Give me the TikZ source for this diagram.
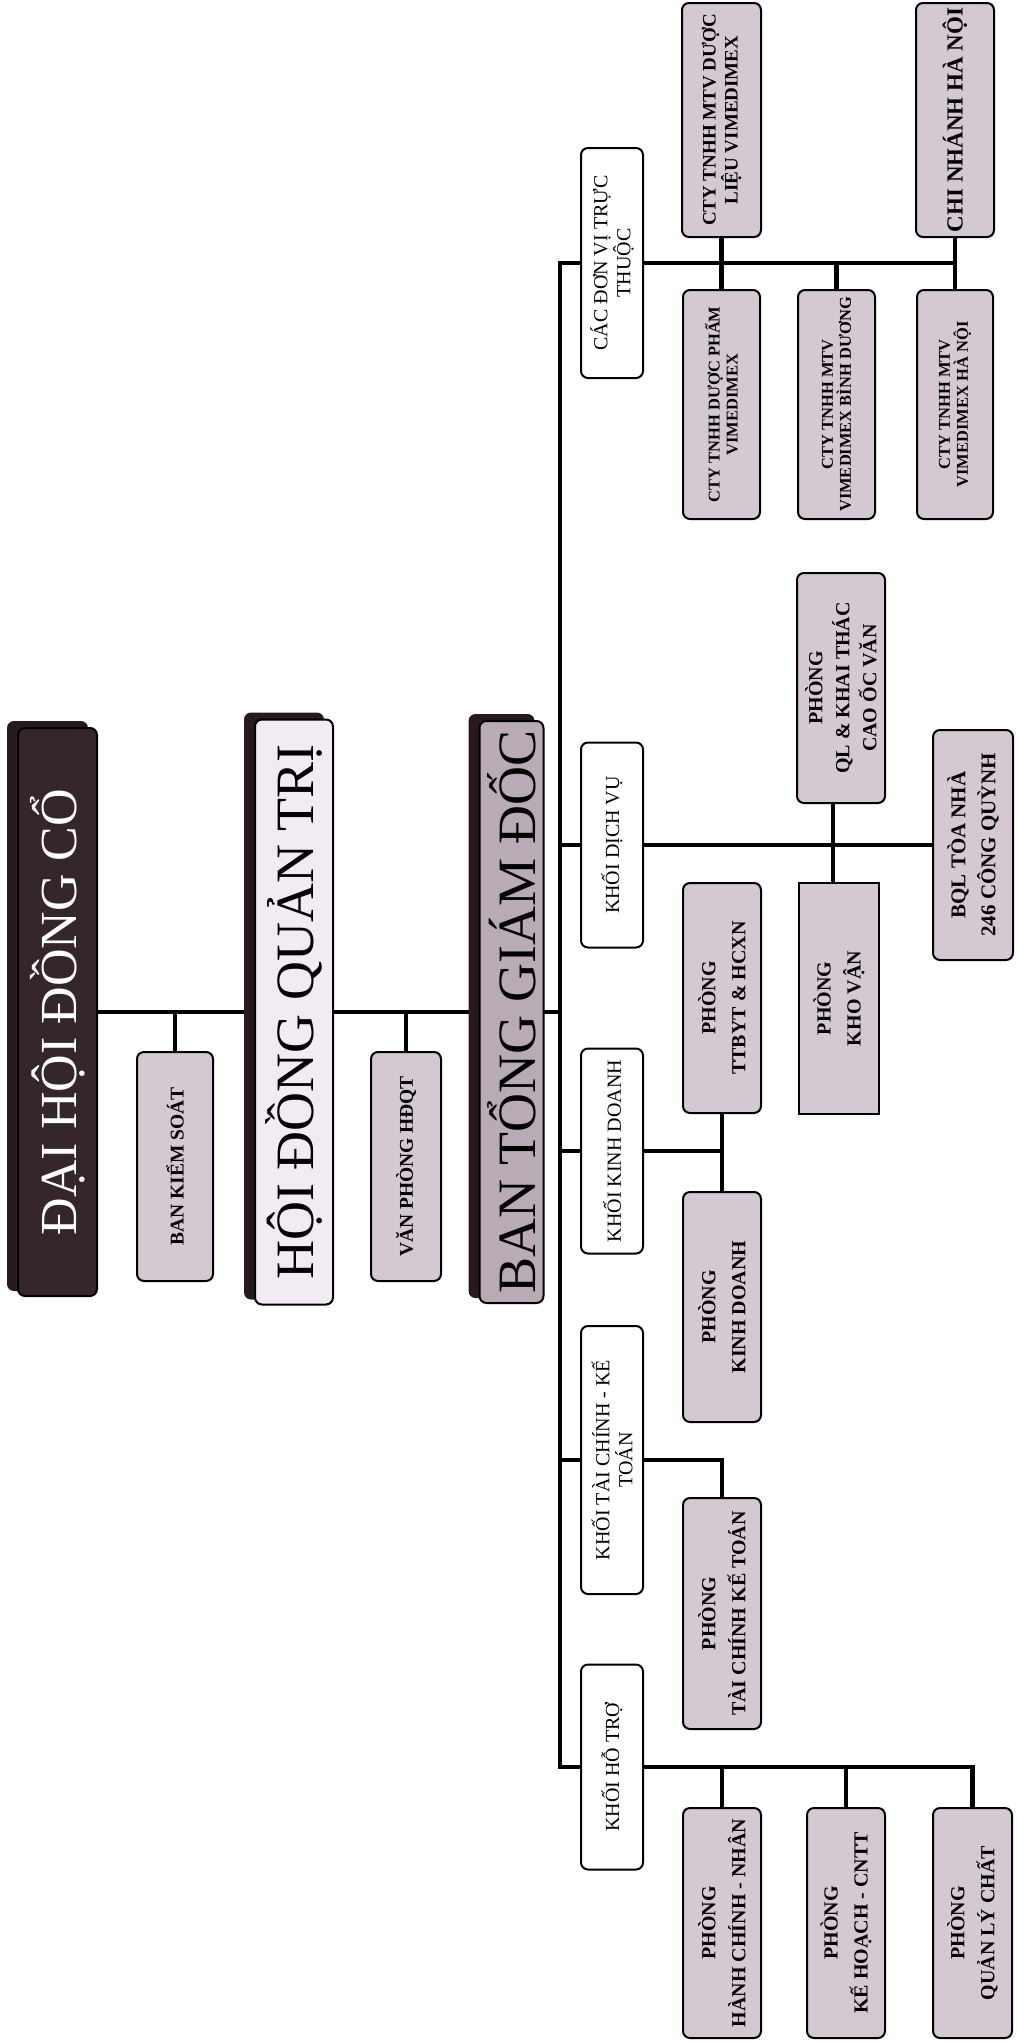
\documentclass[tikz,border=0pt]{standalone}
\usepackage{fontspec}
\setmainfont{Liberation Serif}
\usetikzlibrary{calc}
\pgfdeclarelayer{bg}
\pgfsetlayers{bg,main}
\definecolor{subfill}{RGB}{212,201,210}
\definecolor{btgdfill}{RGB}{184,171,181}
\definecolor{hdqtfill}{RGB}{243,235,243}
\definecolor{dhdcfill}{RGB}{52,38,44}
\definecolor{shadowc}{RGB}{38,26,31}
\tikzset{
  conn/.style={line width=4.5pt, line cap=rect, draw=black},
  sz/.style 2 args={minimum width=#1, minimum height=#2},
  anybox/.style={draw=black, line width=2pt, rounded corners=7pt, rotate=90,
    inner sep=0pt, align=center},
  gbox/.style={anybox, fill=subfill, font=\bfseries\fontsize{20}{30}\selectfont},
  wbox/.style={anybox, fill=white, font=\fontsize{20}{23}\selectfont},
  bigbox/.style={anybox, font=\fontsize{54}{60}\selectfont},
  shadowbox/.style={fill=shadowc, rounded corners=7pt}
}
\begin{document}
\begin{tikzpicture}[x=1pt,y=-1pt]
\useasboundingbox (0,0) rectangle (1018,2043);

% top column
\node[bigbox, fill=dhdcfill, text=white, font=\fontsize{52}{58}\selectfont, sz={568}{79}] (dhdc) at (57.5,1012) {ĐẠI HỘI ĐỒNG CỔ};
\node[bigbox, fill=hdqtfill, sz={585}{78}] (hdqt) at (294,1012) {HỘI ĐỒNG QUẢN TRỊ};
\node[bigbox, fill=btgdfill, sz={582}{64}] (btgd) at (511.5,1012) {BAN TỔNG GIÁM ĐỐC};
\node[gbox, font=\bfseries\fontsize{19.5}{24}\selectfont, sz={229}{76}] (bks) at (175,1166.5) {BAN KIỂM SOÁT};
\node[gbox, font=\bfseries\fontsize{19.5}{24}\selectfont, sz={229}{70}] (vp) at (406,1166.5) {VĂN PHÒNG HĐQT};

% khoi column
\coordinate (spT) at (560,263);
\coordinate (spB) at (560,1767);
\node[wbox, sz={230}{62}] (cdv) at (612,263) {CÁC ĐƠN VỊ TRỰC\\THUỘC};
\node[wbox, sz={205}{62}] (kdv) at (612,845) {KHỐI DỊCH VỤ};
\node[wbox, sz={205}{62}] (kkd) at (612,1151) {KHỐI KINH DOANH};
\node[wbox, sz={268}{62}] (ktc) at (612,1460) {KHỐI TÀI CHÍNH - KẾ\\TOÁN};
\node[wbox, sz={205}{62}] (kht) at (612,1767) {KHỐI HỖ TRỢ};

% subunits
\node[gbox, font=\bfseries\fontsize{19}{22}\selectfont, sz={234}{79}] (dlieu) at (721.5,120) {CTY TNHH MTV DƯỢC\\LIỆU VIMEDIMEX};
\node[gbox, font=\bfseries\fontsize{23}{26}\selectfont, sz={234}{78}] (chinhanh) at (955,120) {CHI NHÁNH HÀ NỘI};
\node[gbox, font=\bfseries\fontsize{16.5}{18}\selectfont, sz={229}{77}] (dpham) at (721.5,404.5) {CTY TNHH DƯỢC PHẨM\\VIMEDIMEX};
\node[gbox, font=\bfseries\fontsize{16.5}{18}\selectfont, sz={229}{77}] (binhduong) at (836.5,404.5) {CTY TNHH MTV\\VIMEDIMEX BÌNH DƯƠNG};
\node[gbox, font=\bfseries\fontsize{16.5}{18}\selectfont, sz={229}{76}] (hanoi) at (955,404.5) {CTY TNHH MTV\\VIMEDIMEX HÀ NỘI};
\node[gbox, font=\bfseries\fontsize{20}{27}\selectfont, sz={230}{88}] (ql) at (841,688) {PHÒNG\\QL \& KHAI THÁC\\CAO ỐC VĂN};
\node[gbox, rounded corners=0pt, sz={231}{80}] (khovan) at (839,998.5) {PHÒNG\\KHO VẬN};
\node[gbox, font=\bfseries\fontsize{21}{30}\selectfont, sz={230}{80}] (bql) at (973,845) {BQL TÒA NHÀ\\246 CÔNG QUỲNH};
\node[gbox, sz={230}{78}] (ttbyt) at (722,998) {PHÒNG\\TTBYT \& HCXN};
\node[gbox, sz={230}{78}] (pkd) at (722,1307) {PHÒNG\\KINH DOANH};
\node[gbox, sz={231}{78}] (ptc) at (722,1613.5) {PHÒNG\\TÀI CHÍNH KẾ TOÁN};
\node[gbox, sz={230}{78}] (hcn) at (722,1923) {PHÒNG\\HÀNH CHÍNH - NHÂN};
\node[gbox, sz={230}{78}] (kh) at (846,1923) {PHÒNG\\KẾ HOẠCH - CNTT};
\node[gbox, sz={230}{79}] (qlc) at (972.5,1923) {PHÒNG\\QUẢN LÝ CHẤT};

\begin{pgfonlayer}{bg}
  % top column connectors
  \draw[conn] (dhdc.center) -- (hdqt.center);
  \draw[conn] (hdqt.center) -- (btgd.center);
  \draw[conn] (btgd.center) -- (btgd.center -| spT);
  \draw[conn] (bks.center) -- (bks.center |- dhdc.center);
  \draw[conn] (vp.center) -- (vp.center |- hdqt.center);
  % spine
  \draw[conn] (spT) -- (spB);
  \foreach \k in {cdv,kdv,kkd,ktc,kht}
    \draw[conn] (spT |- \k.center) -- (\k.center);
  % cac don vi
  \draw[conn] (cdv.center) -- (cdv.center -| chinhanh.center);
  \draw[conn] (dlieu.center) -- (dpham.center);
  \draw[conn] (chinhanh.center) -- (hanoi.center);
  \draw[conn] (binhduong.center) -- (binhduong.center |- cdv.center);
  % dich vu
  \draw[conn] (kdv.center) -- (bql.center);
  \coordinate (j2) at (833,845);
  \draw[conn] (j2 |- ql.center) -- (j2 |- khovan.center);
  % kinh doanh
  \draw[conn] (kkd.center) -- (kkd.center -| ttbyt.center);
  \draw[conn] (ttbyt.center) -- (pkd.center);
  % tai chinh
  \draw[conn] (ktc.center) -| (ptc.center);
  % ho tro
  \draw[conn] (kht.center) -- (kht.center -| qlc.center);
  \foreach \k in {hcn,kh,qlc}
    \draw[conn] (\k.center) -- (\k.center |- kht.center);
  % shadows
  \foreach \k in {dhdc,hdqt,btgd}
    \fill[shadowbox] ($(\k.north east)+(-10,-6)$) rectangle ($(\k.south west)+(-10,-6)$);
\end{pgfonlayer}
\end{tikzpicture}
\end{document}
